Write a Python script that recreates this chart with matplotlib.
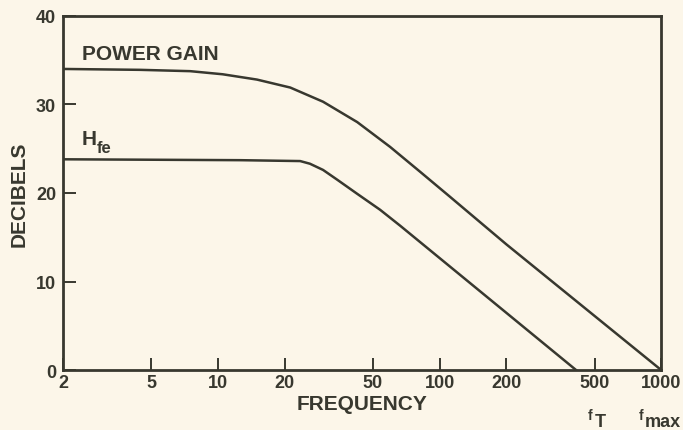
import matplotlib
matplotlib.use("Agg")
import matplotlib.pyplot as plt

# curve readings: frequency vs. gain in dB
power_freq = [2, 4.45, 7.5, 10.5, 15.0, 21.2, 29.8, 42.5, 59.8, 81.6, 111, 200, 1000]
power_db = [34.0, 33.9, 33.75, 33.4, 32.8, 31.9, 30.3, 28.0, 25.2, 22.4, 19.6, 14.2, 0.0]

hfe_freq = [2, 12.6, 23.5, 26.0, 29.8, 34.5, 42.5, 53.9, 66.4, 413]
hfe_db = [23.8, 23.7, 23.6, 23.3, 22.6, 21.5, 19.9, 18.1, 16.3, 0.0]

x_ticks = [2, 5, 10, 20, 50, 100, 200, 500, 1000]
y_ticks = [0, 10, 20, 30, 40]

BG = "#fcf6e9"
INK = "#38382f"
FONT = "Liberation Sans"

fig = plt.figure(figsize=(6.83, 4.31), dpi=100, facecolor=BG)
ax = fig.add_axes([0.0922, 0.139, 0.876, 0.822], facecolor=BG)

ax.plot(power_freq, power_db, color=INK, lw=1.8, solid_joinstyle="round")
ax.plot(hfe_freq, hfe_db, color=INK, lw=1.8, solid_joinstyle="round")

ax.set_xscale("log")
ax.set_xlim(2, 1000)
ax.set_ylim(0, 40)
ax.minorticks_off()
ax.set_xticks(x_ticks)
ax.set_xticklabels([str(t) for t in x_ticks])
ax.set_yticks(y_ticks)
ax.set_yticklabels([str(t) for t in y_ticks])

for s in ax.spines.values():
    s.set_color(INK)
    s.set_linewidth(2.0)

ax.tick_params(axis="both", direction="in", length=9, width=1.4, color=INK,
               labelcolor=INK)
ax.tick_params(axis="x", pad=3)
ax.tick_params(axis="y", pad=5)
for lab in ax.get_xticklabels() + ax.get_yticklabels():
    lab.set_fontfamily(FONT)
    lab.set_fontweight("bold")
    lab.set_fontsize(13)

ax.set_xlabel("FREQUENCY", fontfamily=FONT, fontweight="bold", fontsize=15,
              color=INK, labelpad=2)
ax.set_ylabel("DECIBELS", fontfamily=FONT, fontweight="bold", fontsize=15,
              color=INK, labelpad=5)

# curve names
ax.text(2.43, 35.8, "POWER GAIN", fontfamily=FONT, fontweight="bold",
        fontsize=15, color=INK, va="center", ha="left")
ax.text(2.43, 26.2, "H", fontfamily=FONT, fontweight="bold",
        fontsize=15, color=INK, va="center", ha="left")
ax.text(2.85, 25.1, "fe", fontfamily=FONT, fontweight="bold",
        fontsize=12, color=INK, va="center", ha="left")

# cutoff markers under the axis
tr = ax.get_xaxis_transform()
ax.text(490, -0.128, "f", transform=tr, fontfamily=FONT, fontweight="bold",
        fontsize=10, color=INK, va="center", ha="right")
ax.text(500, -0.145, "T", transform=tr, fontfamily=FONT, fontweight="bold",
        fontsize=13, color=INK, va="center", ha="left")
ax.text(830, -0.128, "f", transform=tr, fontfamily=FONT, fontweight="bold",
        fontsize=10, color=INK, va="center", ha="right")
ax.text(846, -0.145, "max", transform=tr, fontfamily=FONT, fontweight="bold",
        fontsize=13, color=INK, va="center", ha="left", clip_on=False)

fig.savefig("out.png", dpi=100, facecolor=BG)
